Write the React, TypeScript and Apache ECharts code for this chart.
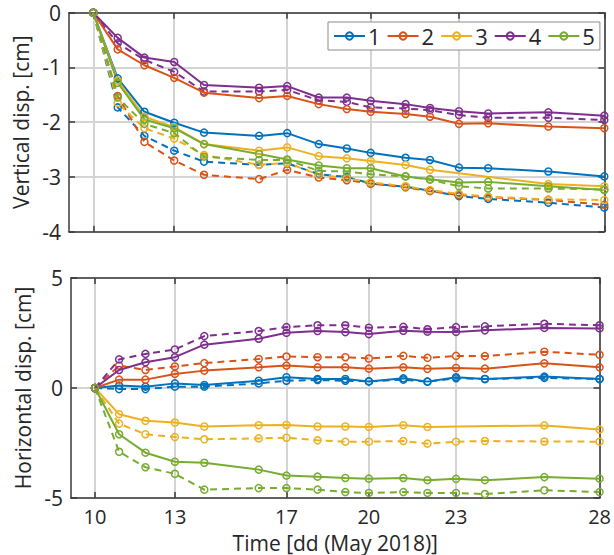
import React, { useEffect, useRef } from "react";
import * as echarts from "echarts";

// Measurement times (day of May 2018, fractional)
const TIMES = [10, 10.86, 11.8, 12.85, 13.9, 15.84, 16.83, 17.94, 18.93, 19.77, 21.0, 21.86, 22.88, 23.91, 26.03, 28.0];
// Tick positions on the time axis (labels shown as day numbers)
const X_TICKS = [10, 12.85, 16.83, 19.77, 22.88, 28];
const X_MIN = 9.144;
const X_MAX = 28;

const NAMES = ["1", "2", "3", "4", "5"];
const COLORS = ["#0072BD", "#D95319", "#EDB120", "#7E2F8E", "#77AC30"];

// Vertical displacement [cm] – solid lines
const V1 = [0, -1.2, -1.81, -2.01, -2.19, -2.25, -2.2, -2.4, -2.48, -2.56, -2.65, -2.69, -2.83, -2.84, -2.9, -2.99];
const V2 = [0, -0.67, -0.96, -1.19, -1.46, -1.56, -1.52, -1.67, -1.76, -1.81, -1.85, -1.9, -2.03, -2.02, -2.08, -2.11];
const V3 = [0, -1.24, -1.9, -2.09, -2.4, -2.52, -2.46, -2.62, -2.66, -2.71, -2.78, -2.87, null, null, -3.13, -3.17];
const V4 = [0, -0.46, -0.82, -0.9, -1.32, -1.37, -1.34, -1.55, -1.55, -1.61, -1.67, -1.74, -1.8, -1.84, -1.82, -1.88];
const V5 = [0, -1.28, -1.95, -2.11, -2.4, -2.58, -2.68, -2.79, -2.84, -2.84, -2.99, -3.04, -3.1, -3.09, -3.17, -3.24];
// Vertical displacement [cm] – dashed lines
const VD1 = [0, -1.73, -2.25, -2.52, -2.72, -2.78, -2.75, -2.95, -3.0, -3.12, -3.18, -3.25, -3.35, -3.4, -3.47, -3.56];
const VD2 = [0, -1.52, -2.36, -2.7, -2.96, -3.04, -2.87, -3.01, -3.06, -3.12, -3.19, -3.26, -3.33, -3.37, -3.42, -3.51];
const VD3 = [0, -1.65, -2.11, -2.3, -2.6, -2.78, -2.74, -2.96, -3.02, -3.1, -3.17, -3.24, -3.31, -3.36, -3.41, -3.42];
const VD4 = [0, -0.56, -0.86, -1.08, -1.44, -1.44, -1.41, -1.6, -1.63, -1.73, -1.75, -1.78, -1.87, -1.92, -1.92, -1.96];
const VD5 = [0, -1.55, -2.03, -2.2, -2.63, -2.69, -2.69, -2.89, -2.9, -2.95, -2.99, -3.05, -3.17, -3.21, -3.21, -3.23];

// Horizontal displacement [cm] – solid lines
const H1 = [0, 0.11, 0.06, 0.21, 0.14, 0.33, 0.49, 0.41, 0.41, 0.3, 0.44, 0.29, 0.49, 0.41, 0.52, 0.41];
const H2 = [0, 0.38, 0.38, 0.64, 0.79, 0.94, 1.02, 0.94, 0.94, 0.88, 0.94, 0.87, 0.91, 0.88, 1.12, 0.94];
const H3 = [0, -1.19, -1.49, -1.57, -1.75, -1.69, -1.68, -1.75, -1.75, -1.77, -1.69, -1.77, null, null, -1.7, -1.89];
const H4 = [0, 0.82, 1.17, 1.4, 1.97, 2.24, 2.51, 2.59, 2.54, 2.45, 2.6, 2.56, 2.55, 2.62, 2.73, 2.71];
const H5 = [0, -2.1, -2.94, -3.35, -3.4, -3.71, -3.98, -4.03, -4.09, -4.12, -4.09, -4.19, -4.13, -4.19, -4.05, -4.12];
// Horizontal displacement [cm] – dashed lines
const HD1 = [0, -0.05, -0.05, 0.06, 0.06, 0.21, 0.33, 0.36, 0.33, 0.3, 0.38, 0.29, 0.44, 0.41, 0.46, 0.41];
const HD2 = [0, 1.02, 0.82, 0.98, 1.13, 1.32, 1.43, 1.4, 1.4, 1.34, 1.46, 1.37, 1.46, 1.45, 1.65, 1.51];
const HD3 = [0, -1.62, -2.1, -2.23, -2.33, -2.29, -2.26, -2.38, -2.44, -2.44, -2.41, -2.53, -2.44, -2.41, -2.43, -2.44];
const HD4 = [0, 1.3, 1.55, 1.75, 2.36, 2.59, 2.77, 2.85, 2.85, 2.74, 2.78, 2.67, 2.77, 2.8, 2.92, 2.85];
const HD5 = [0, -2.9, -3.6, -3.9, -4.62, -4.55, -4.55, -4.62, -4.73, -4.77, -4.73, -4.77, -4.77, -4.82, -4.65, -4.73];

const V_SOLID = [V1, V2, V3, V4, V5];
const V_DASHED = [VD1, VD2, VD3, VD4, VD5];
const H_SOLID = [H1, H2, H3, H4, H5];
const H_DASHED = [HD1, HD2, HD3, HD4, HD5];

const FONT = "'Open Sans', 'DejaVu Sans', sans-serif";
const TEXT = "#262626";
const AXIS_COLOR = "#3a3a3a";
const GRID_COLOR = "#d4d4d4";

function makeSeries(name: string, vals: (number | null)[], color: string, dashed: boolean, axisIdx: number) {
  const data: number[][] = [];
  vals.forEach((v, i) => {
    if (v !== null) data.push([TIMES[i], v]);
  });
  return {
    type: "line",
    name,
    xAxisIndex: axisIdx,
    yAxisIndex: axisIdx,
    data,
    clip: false,
    symbol: "circle",
    symbolSize: 7,
    itemStyle: { color: "rgba(0,0,0,0)", borderColor: color, borderWidth: 1.5 },
    lineStyle: { color, width: 2, type: dashed ? [7, 5] : "solid" },
    emphasis: { disabled: true },
    z: dashed ? 2 : 3,
  };
}

function xAxes(gridIndex: number, showLabels: boolean) {
  const common = {
    type: "value",
    gridIndex,
    min: X_MIN,
    max: X_MAX,
    axisLine: { show: true, onZero: false, lineStyle: { color: AXIS_COLOR, width: 1.5 } },
    axisTick: { show: true, inside: true, length: 6, customValues: X_TICKS, lineStyle: { color: AXIS_COLOR, width: 1.5 } },
  };
  return [
    {
      ...common,
      position: "bottom",
      splitLine: { show: true, lineStyle: { color: GRID_COLOR, width: 2 } },
      axisLabel: {
        show: showLabels,
        customValues: X_TICKS,
        formatter: (v: number) => String(Math.round(v)),
        color: TEXT,
        fontSize: 20,
        fontFamily: FONT,
        margin: 8,
      },
      name: showLabels ? "Time [dd (May 2018)]" : "",
      nameLocation: "middle",
      nameGap: 34,
      nameTextStyle: { color: TEXT, fontSize: 21, fontFamily: FONT },
    },
    {
      ...common,
      position: "top",
      splitLine: { show: false },
      axisLabel: { show: false },
    },
  ];
}

function yAxes(gridIndex: number, min: number, max: number, interval: number, name: string) {
  const common = {
    type: "value",
    gridIndex,
    min,
    max,
    interval,
    axisLine: { show: true, onZero: false, lineStyle: { color: AXIS_COLOR, width: 1.5 } },
    axisTick: { show: true, inside: true, length: 6, lineStyle: { color: AXIS_COLOR, width: 1.5 } },
  };
  return [
    {
      ...common,
      position: "left",
      splitLine: { show: true, lineStyle: { color: GRID_COLOR, width: 2 } },
      axisLabel: { color: TEXT, fontSize: 21, fontFamily: FONT, margin: 8 },
      name,
      nameLocation: "middle",
      nameGap: 35,
      nameTextStyle: { color: TEXT, fontSize: 21, fontFamily: FONT },
    },
    {
      ...common,
      position: "right",
      splitLine: { show: false },
      axisLabel: { show: false },
    },
  ];
}

export default function App() {
  const ref = useRef<HTMLDivElement>(null);
  useEffect(() => {
    if (!ref.current) return;
    const chart = echarts.init(ref.current, null, { renderer: "svg" });
    const series: any[] = [];
    for (let k = 0; k < 5; k++) {
      series.push(makeSeries(NAMES[k], V_SOLID[k], COLORS[k], false, 0));
    }
    for (let k = 0; k < 5; k++) {
      series.push(makeSeries(NAMES[k] + "d", V_DASHED[k], COLORS[k], true, 0));
    }
    for (let k = 0; k < 5; k++) {
      series.push(makeSeries(NAMES[k] + "h", H_SOLID[k], COLORS[k], false, 2));
      series.push(makeSeries(NAMES[k] + "hd", H_DASHED[k], COLORS[k], true, 2));
    }
    chart.setOption({
      animation: false,
      backgroundColor: "#ffffff",
      grid: [
        { left: 69, top: 12.7, width: 535.3, height: 219 },
        { left: 71, top: 278, width: 535, height: 220 },
      ],
      xAxis: [...xAxes(0, false), ...xAxes(1, true)],
      yAxis: [
        ...yAxes(0, -4, 0, 1, "Vertical disp. [cm]"),
        ...yAxes(1, -5, 5, 5, "Horizontal disp. [cm]"),
      ],
      legend: {
        data: NAMES,
        left: 328,
        top: 22,
        orient: "horizontal",
        itemWidth: 31,
        itemHeight: 9,
        itemGap: 6,
        padding: [3, 5, 3, 5],
        borderColor: "#8c8c8c",
        borderWidth: 1,
        backgroundColor: "#ffffff",
        selectedMode: false,
        textStyle: { color: TEXT, fontSize: 22, fontFamily: FONT, padding: [0, 0, 0, -2] },
      },
      series,
    });
    return () => chart.dispose();
  }, []);
  return <div ref={ref} style={{ position: "absolute", left: 0, top: 0, width: 614, height: 555 }} />;
}
